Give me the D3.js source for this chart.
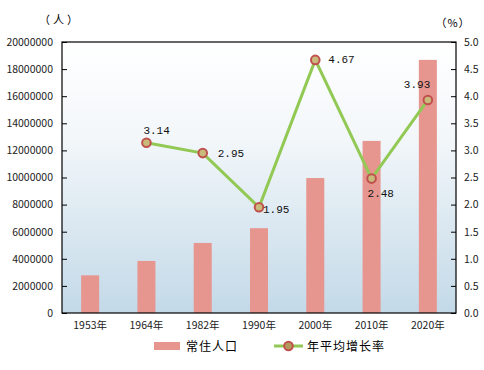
<!DOCTYPE html>
<html>
<head>
<meta charset="utf-8">
<script src="https://cdn.jsdelivr.net/npm/d3@7"></script>
<style>
  body { margin: 0; background: #fff; }
  svg text { font-family: "Noto Sans CJK SC", "Noto Sans", sans-serif; }
</style>
</head>
<body>
<svg id="chart" width="484" height="370"></svg>
<script>
// data
var years = ["1953年", "1964年", "1982年", "1990年", "2000年", "2010年", "2020年"];
var population = [2780000, 3840000, 5170000, 6260000, 9960000, 12700000, 18680000];
var growthYears = ["1964年", "1982年", "1990年", "2000年", "2010年", "2020年"];
var growthRate = [3.14, 2.95, 1.95, 4.67, 2.48, 3.93];
var leftTicks = d3.range(0, 20000001, 2000000);
var rightTicks = d3.range(0, 5.01, 0.5);
// label offsets (dx, dy) around the markers
var labelPos = [[-3, -9], [15, 4], [4, 6], [13, 3], [-4, 18], [-24, -12]];

// plot area (window.top is taken, so no "top" here)
var plotL = 62, plotR = 456, plotT = 42, plotB = 313;

var svg = d3.select("#chart");

var defs = svg.append("defs");
var grad = defs.append("linearGradient")
    .attr("id", "bg")
    .attr("x1", 0).attr("y1", 0).attr("x2", 0).attr("y2", 1);
grad.append("stop").attr("offset", "0").attr("stop-color", "#ffffff");
grad.append("stop").attr("offset", "0.35").attr("stop-color", "#f3f7fa");
grad.append("stop").attr("offset", "1").attr("stop-color", "#c3d9e8");

var x = d3.scaleBand()
    .domain(years)
    .range([plotL, plotR])
    .paddingInner(0.68)
    .paddingOuter(0.34);

var yL = d3.scaleLinear().domain([0, 20000000]).range([plotB, plotT]);
var yR = d3.scaleLinear().domain([0, 5]).range([plotB, plotT]);

svg.append("rect")
    .attr("x", plotL)
    .attr("y", plotT)
    .attr("width", plotR - plotL)
    .attr("height", plotB - plotT)
    .attr("fill", "url(#bg)");

// bars
svg.selectAll(".bar")
    .data(population)
    .enter().append("rect")
    .attr("class", "bar")
    .attr("x", (d, i) => x(years[i]))
    .attr("y", d => yL(d))
    .attr("width", x.bandwidth())
    .attr("height", d => plotB - yL(d))
    .attr("fill", "#e6968f");

// axes
var leftAxis = d3.axisLeft(yL).tickValues(leftTicks).tickSize(-5).tickPadding(9).tickFormat(d3.format("d"));
var rightAxis = d3.axisRight(yR).tickValues(rightTicks).tickSize(-5).tickPadding(8).tickFormat(d3.format(".1f"));
var bottomAxis = d3.axisBottom(x).tickSize(0).tickPadding(9);

function styleAxis(g) {
    g.select(".domain").remove();
    g.selectAll("line").attr("stroke", "#000");
    g.selectAll("text").attr("fill", "#222").attr("font-size", "10.5px");
}

svg.append("g").attr("transform", "translate(" + plotL + ",0)").call(leftAxis).call(styleAxis);
svg.append("g").attr("transform", "translate(" + plotR + ",0)").call(rightAxis).call(styleAxis);
svg.append("g").attr("transform", "translate(0," + plotB + ")").call(bottomAxis).call(styleAxis);

// plot frame
svg.append("rect")
    .attr("x", plotL)
    .attr("y", plotT)
    .attr("width", plotR - plotL)
    .attr("height", plotB - plotT)
    .attr("fill", "none")
    .attr("stroke", "#000")
    .attr("stroke-width", 1.2);

// growth line
var cx = d => x(d) + x.bandwidth() / 2;
var line = d3.line()
    .x((d, i) => cx(growthYears[i]))
    .y(d => yR(d));

svg.append("path")
    .datum(growthRate)
    .attr("d", line)
    .attr("fill", "none")
    .attr("stroke", "#92c954")
    .attr("stroke-width", 3);

svg.selectAll(".dot")
    .data(growthRate)
    .enter().append("circle")
    .attr("class", "dot")
    .attr("cx", (d, i) => cx(growthYears[i]))
    .attr("cy", d => yR(d))
    .attr("r", 4.3)
    .attr("fill", "#c9b97a")
    .attr("stroke", "#c0504d")
    .attr("stroke-width", 2);

svg.selectAll(".val")
    .data(growthRate)
    .enter().append("text")
    .attr("class", "val")
    .attr("x", (d, i) => cx(growthYears[i]) + labelPos[i][0])
    .attr("y", (d, i) => yR(d) + labelPos[i][1])
    .attr("font-size", "11px")
    .attr("fill", "#111")
    .style("font-family", "'Liberation Mono', monospace")
    .text(d => d.toFixed(2));

// unit labels
svg.append("text")
    .attr("x", 60).attr("y", 24)
    .attr("text-anchor", "middle")
    .attr("font-size", "11px")
    .attr("letter-spacing", "3px")
    .text("（人）");

svg.append("text")
    .attr("x", 453).attr("y", 27)
    .attr("text-anchor", "middle")
    .attr("font-size", "11px")
    .attr("letter-spacing", "1px")
    .text("（%）");

// legend
svg.append("rect")
    .attr("x", 154).attr("y", 342)
    .attr("width", 26).attr("height", 8)
    .attr("fill", "#e6968f");
svg.append("text")
    .attr("x", 186).attr("y", 351)
    .attr("font-size", "12px")
    .attr("letter-spacing", "1px")
    .text("常住人口");

svg.append("line")
    .attr("x1", 274).attr("x2", 303)
    .attr("y1", 346).attr("y2", 346)
    .attr("stroke", "#92c954")
    .attr("stroke-width", 3);
svg.append("circle")
    .attr("cx", 288.5).attr("cy", 346)
    .attr("r", 4.3)
    .attr("fill", "#b39a5c")
    .attr("stroke", "#c0504d")
    .attr("stroke-width", 2);
svg.append("text")
    .attr("x", 307).attr("y", 351)
    .attr("font-size", "12px")
    .attr("letter-spacing", "1px")
    .text("年平均增长率");
</script>
</body>
</html>
